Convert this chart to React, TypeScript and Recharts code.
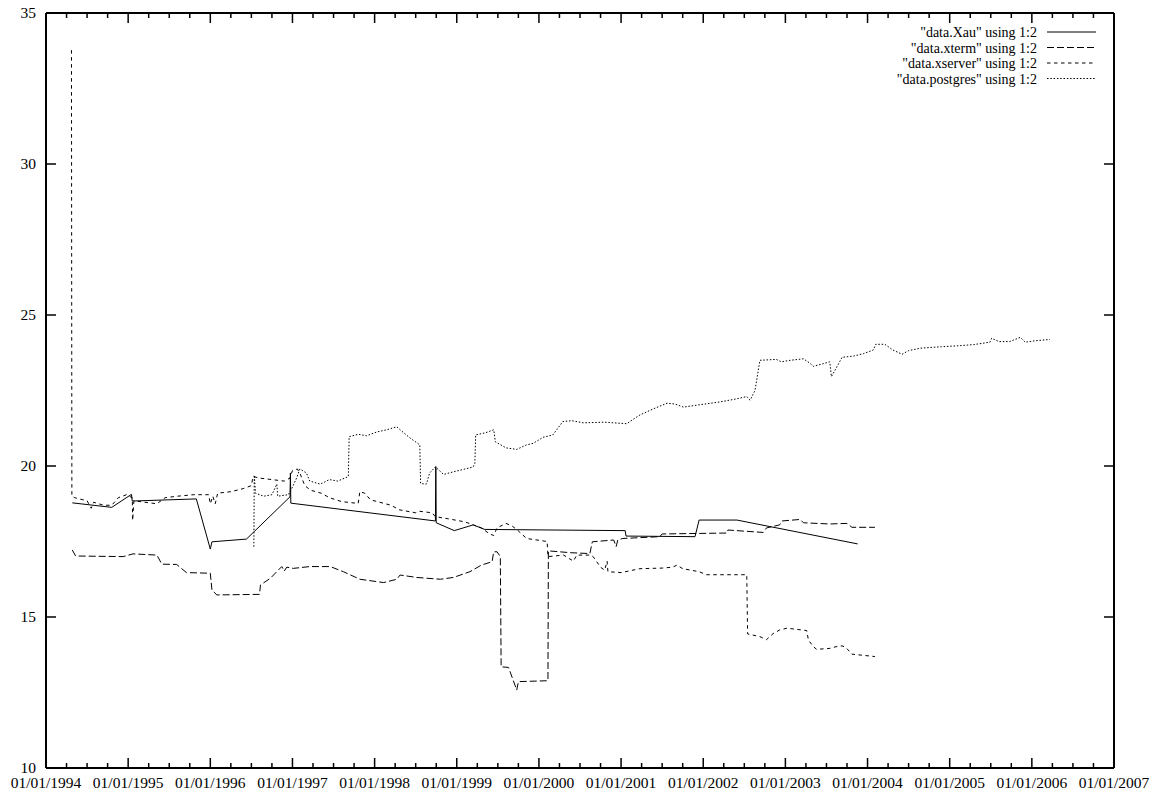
import React from 'react';
import { LineChart, Line, XAxis, YAxis } from 'recharts';

type Pt = [number, number];

// [fractional year, value]
const xauSeries: Pt[] = [
  [1994.32, 18.78], [1994.8, 18.63], [1995.04, 19.06], [1995.05, 18.84],
  [1995.83, 18.91], [1996.0, 17.25], [1996.02, 17.49], [1996.44, 17.58],
  [1996.97, 18.98], [1996.975, 19.77], [1996.98, 18.77], [1998.74, 18.18],
  [1998.745, 19.98], [1998.75, 18.12], [1998.97, 17.86], [1999.2, 18.05],
  [1999.34, 17.9], [2001.05, 17.86], [2001.06, 17.68], [2001.9, 17.66],
  [2001.95, 18.21], [2002.41, 18.21], [2003.88, 17.42],
];

const xtermSeries: Pt[] = [
  [1994.32, 17.22], [1994.36, 17.02], [1994.94, 17.0], [1995.06, 17.09],
  [1995.35, 17.05], [1995.41, 16.75], [1995.59, 16.74], [1995.71, 16.47],
  [1996.0, 16.45], [1996.02, 15.89], [1996.08, 15.73], [1996.6, 15.75],
  [1996.61, 16.06], [1996.73, 16.28], [1996.87, 16.67], [1996.9, 16.52],
  [1996.93, 16.65], [1997.01, 16.61], [1997.21, 16.67], [1997.46, 16.67],
  [1997.62, 16.5], [1997.82, 16.25], [1998.11, 16.14], [1998.27, 16.25],
  [1998.31, 16.39], [1998.51, 16.31], [1998.8, 16.25], [1998.96, 16.31],
  [1999.16, 16.5], [1999.3, 16.72], [1999.43, 16.83], [1999.45, 17.16],
  [1999.49, 17.16], [1999.53, 17.0], [1999.54, 13.35], [1999.63, 13.33],
  [1999.73, 12.58], [1999.75, 12.86], [2000.11, 12.89], [2000.115, 17.19],
  [2000.38, 17.13], [2000.62, 17.1], [2000.65, 17.49], [2000.91, 17.55],
  [2000.94, 17.33], [2000.96, 17.55], [2001.02, 17.6], [2001.47, 17.66],
  [2001.5, 17.75], [2002.29, 17.78], [2002.3, 17.88], [2002.73, 17.8],
  [2002.77, 17.95], [2002.93, 18.05], [2002.96, 18.18], [2003.18, 18.23],
  [2003.22, 18.12], [2003.54, 18.08], [2003.75, 18.1], [2003.81, 17.97],
  [2004.09, 17.97],
];

const xserverSeries: Pt[] = [
  [1994.31, 33.77], [1994.315, 19.0], [1994.35, 18.95], [1994.42, 18.9],
  [1994.5, 18.85], [1994.55, 18.6], [1994.58, 18.8], [1994.7, 18.7],
  [1994.8, 18.7], [1994.88, 18.95], [1994.98, 19.05], [1995.05, 18.95],
  [1995.055, 18.2], [1995.07, 18.85], [1995.2, 18.8], [1995.35, 18.75],
  [1995.45, 18.95], [1995.6, 19.0], [1995.8, 19.05], [1995.98, 19.05],
  [1996.0, 18.75], [1996.03, 19.0], [1996.06, 18.75], [1996.09, 19.1],
  [1996.25, 19.15], [1996.4, 19.25], [1996.5, 19.35], [1996.52, 19.65],
  [1996.6, 19.6], [1996.75, 19.55], [1996.9, 19.5], [1996.97, 19.6],
  [1997.0, 19.85], [1997.06, 19.9], [1997.1, 19.7], [1997.15, 19.35],
  [1997.22, 19.2], [1997.35, 19.1], [1997.45, 18.95], [1997.6, 18.82],
  [1997.8, 18.76], [1997.82, 19.15], [1997.88, 19.1], [1997.95, 18.88],
  [1998.2, 18.7], [1998.3, 18.55], [1998.5, 18.45], [1998.55, 18.5],
  [1998.7, 18.45], [1998.74, 18.32], [1998.9, 18.25], [1999.1, 18.15],
  [1999.2, 18.05], [1999.3, 17.95], [1999.4, 17.75], [1999.45, 17.7],
  [1999.49, 17.95], [1999.6, 18.1], [1999.68, 18.0], [1999.75, 17.85],
  [1999.85, 17.6], [2000.1, 17.5], [2000.11, 17.0], [2000.3, 17.05],
  [2000.42, 16.85], [2000.46, 17.05], [2000.62, 17.05], [2000.66, 17.0],
  [2000.75, 16.65], [2000.8, 16.55], [2000.83, 16.85], [2000.84, 16.5],
  [2001.0, 16.47], [2001.23, 16.6], [2001.5, 16.62], [2001.63, 16.65],
  [2001.68, 16.72], [2001.75, 16.6], [2001.95, 16.5], [2002.04, 16.4],
  [2002.53, 16.4], [2002.54, 14.44], [2002.69, 14.35], [2002.77, 14.25],
  [2002.85, 14.45], [2002.93, 14.57], [2003.02, 14.63], [2003.26, 14.55],
  [2003.28, 14.24], [2003.34, 14.02], [2003.38, 13.93], [2003.54, 13.96],
  [2003.65, 14.04], [2003.7, 14.04], [2003.75, 13.95], [2003.81, 13.77],
  [2004.09, 13.69],
];

const postgresSeries: Pt[] = [
  [1996.53, 17.33], [1996.535, 19.7], [1996.55, 19.1], [1996.65, 19.0],
  [1996.75, 19.05], [1996.81, 19.4], [1996.82, 19.0], [1996.95, 19.05],
  [1997.0, 19.3], [1997.05, 19.6], [1997.09, 19.9], [1997.17, 19.77],
  [1997.21, 19.5], [1997.34, 19.4], [1997.45, 19.55], [1997.55, 19.5],
  [1997.68, 19.65], [1997.69, 20.97], [1997.8, 21.05], [1997.9, 21.0],
  [1998.03, 21.13], [1998.15, 21.2], [1998.27, 21.3], [1998.31, 21.2],
  [1998.43, 20.93], [1998.55, 20.7], [1998.56, 19.42], [1998.63, 19.4],
  [1998.67, 19.77], [1998.74, 19.97], [1998.84, 19.72], [1998.95, 19.8],
  [1999.1, 19.9], [1999.2, 19.97], [1999.22, 20.09], [1999.23, 21.03],
  [1999.35, 21.1], [1999.45, 21.2], [1999.47, 20.8], [1999.6, 20.6],
  [1999.73, 20.55], [1999.85, 20.7], [1999.93, 20.75], [2000.05, 20.95],
  [2000.17, 21.03], [2000.29, 21.47], [2000.4, 21.5], [2000.54, 21.43],
  [2000.8, 21.45], [2001.07, 21.4], [2001.15, 21.55], [2001.23, 21.69],
  [2001.4, 21.9], [2001.56, 22.08], [2001.66, 22.05], [2001.76, 21.95],
  [2001.96, 22.03], [2002.2, 22.12], [2002.4, 22.22], [2002.53, 22.3],
  [2002.57, 22.18], [2002.63, 22.5], [2002.69, 23.5], [2002.89, 23.53],
  [2002.95, 23.45], [2003.06, 23.5], [2003.22, 23.55], [2003.3, 23.4],
  [2003.34, 23.3], [2003.45, 23.38], [2003.54, 23.45], [2003.56, 22.96],
  [2003.62, 23.25], [2003.69, 23.6], [2003.83, 23.64], [2003.95, 23.72],
  [2004.07, 23.84], [2004.1, 24.03], [2004.21, 24.03], [2004.31, 23.84],
  [2004.42, 23.7], [2004.5, 23.82], [2004.64, 23.9], [2004.9, 23.95],
  [2005.1, 23.98], [2005.29, 24.02], [2005.49, 24.1], [2005.51, 24.23],
  [2005.6, 24.12], [2005.73, 24.12], [2005.86, 24.26], [2005.92, 24.1],
  [2006.05, 24.15], [2006.22, 24.19],
];

const yearTicks = [1994, 1995, 1996, 1997, 1998, 1999, 2000, 2001, 2002, 2003, 2004, 2005, 2006, 2007];
const yTicks = [10, 15, 20, 25, 30, 35];
const seriesNames = [
  '"data.Xau" using 1:2',
  '"data.xterm" using 1:2',
  '"data.xserver" using 1:2',
  '"data.postgres" using 1:2',
];
const dashes = ['', '7 3', '3.5 3.5', '1.5 1.8'];

const xTicksAll: number[] = [];
yearTicks.forEach((y, i) => {
  xTicksAll.push(y);
  if (i < yearTicks.length - 1) {
    xTicksAll.push(y + 0.25, y + 0.5, y + 0.75);
  }
});

const toRows = (pts: Pt[]) => pts.map(([x, v]) => ({ x, v }));

const FONT = "'Liberation Serif', 'DejaVu Serif', serif";
const FS = 15.5;
const LEG_FS = 14;
const textStyle = { fontFamily: FONT };

const isMajor = (v: number) => Math.abs(v - Math.round(v)) < 1e-6;

const BottomTick = (props: any) => {
  const { x, y, payload } = props;
  const v = payload.value;
  const major = isMajor(v);
  return (
    <g>
      <line x1={x} y1={y} x2={x} y2={y - (major ? 10 : 5)} stroke="#000" strokeWidth={1.5} />
      {major && (
        <text x={x} y={y + 20} textAnchor="middle" fontSize={FS} style={textStyle} fill="#000">
          {`01/01/${Math.round(v)}`}
        </text>
      )}
    </g>
  );
};

const TopTick = (props: any) => {
  const { x, y, payload } = props;
  const major = isMajor(payload.value);
  return <line x1={x} y1={y} x2={x} y2={y + (major ? 10 : 5)} stroke="#000" strokeWidth={1.5} />;
};

const LeftTick = (props: any) => {
  const { x, y, payload } = props;
  return (
    <g>
      <line x1={x} y1={y} x2={x + 10} y2={y} stroke="#000" strokeWidth={1.5} />
      <text x={x - 10} y={y + 5} textAnchor="end" fontSize={FS} style={textStyle} fill="#000">
        {payload.value}
      </text>
    </g>
  );
};

const RightTick = (props: any) => {
  const { x, y } = props;
  return <line x1={x} y1={y} x2={x - 10} y2={y} stroke="#000" strokeWidth={1.5} />;
};

const allSeries = [xauSeries, xtermSeries, xserverSeries, postgresSeries];

export default function App() {
  const axisLine = { stroke: '#000', strokeWidth: 2 };
  return (
    <div style={{ position: 'absolute', left: 0, top: 0, width: 1158, height: 796, background: '#fff', fontFamily: FONT }}>
      <LineChart width={1158} height={796} margin={{ top: 12, right: 43, bottom: 27, left: 45 }} style={textStyle}>
        <XAxis
          dataKey="x"
          type="number"
          domain={[1994, 2007]}
          ticks={xTicksAll}
          interval={0}
          height={1}
          tickSize={0}
          tickMargin={0}
          tickLine={false}
          axisLine={axisLine}
          tick={BottomTick}
          allowDataOverflow
        />
        <XAxis
          xAxisId="top"
          orientation="top"
          dataKey="x"
          type="number"
          domain={[1994, 2007]}
          ticks={xTicksAll}
          interval={0}
          height={1}
          tickSize={0}
          tickMargin={0}
          tickLine={false}
          axisLine={axisLine}
          tick={TopTick}
          allowDataOverflow
        />
        <YAxis
          type="number"
          domain={[10, 35]}
          ticks={yTicks}
          interval={0}
          width={1}
          tickSize={0}
          tickMargin={0}
          tickLine={false}
          axisLine={axisLine}
          tick={LeftTick}
          allowDataOverflow
        />
        <YAxis
          yAxisId="right"
          orientation="right"
          type="number"
          domain={[10, 35]}
          ticks={yTicks}
          interval={0}
          width={1}
          tickSize={0}
          tickMargin={0}
          tickLine={false}
          axisLine={axisLine}
          tick={RightTick}
          allowDataOverflow
        />
        {allSeries.map((s, i) => (
          <Line
            key={seriesNames[i]}
            name={seriesNames[i]}
            data={toRows(s)}
            dataKey="v"
            type="linear"
            stroke="#000"
            strokeWidth={1}
            strokeDasharray={dashes[i] || undefined}
            dot={false}
            activeDot={false}
            isAnimationActive={false}
          />
        ))}
        <Line
          xAxisId="top"
          yAxisId="right"
          data={toRows(xauSeries)}
          dataKey="v"
          stroke="none"
          dot={false}
          activeDot={false}
          legendType="none"
          isAnimationActive={false}
        />
      </LineChart>
      <svg
        width={1158}
        height={796}
        style={{ position: 'absolute', left: 0, top: 0, pointerEvents: 'none' }}
      >
        {seriesNames.map((n, i) => {
          const cy = 32 + i * 15.5;
          return (
            <g key={n}>
              <text x={1037} y={cy + 5} textAnchor="end" fontSize={LEG_FS} style={textStyle} fill="#000">
                {n}
              </text>
              <line
                x1={1047}
                y1={cy}
                x2={1096}
                y2={cy}
                stroke="#000"
                strokeWidth={1}
                strokeDasharray={dashes[i] || undefined}
              />
            </g>
          );
        })}
      </svg>
    </div>
  );
}
